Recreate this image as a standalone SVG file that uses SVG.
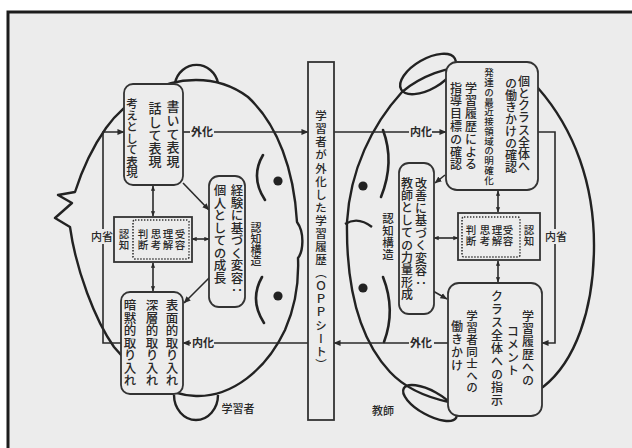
<svg xmlns="http://www.w3.org/2000/svg" width="632" height="448" viewBox="0 0 632 448">
  <style>
    .face { fill: none; stroke: #222; stroke-width: 2.4; stroke-linejoin: round; }
    .brow { fill: none; stroke: #222; stroke-width: 2.6; stroke-linecap: round; }
    .eye { fill: #222; }
    .box { fill: #ececec; stroke: #333; stroke-width: 1.8; }
    .dots { fill: none; stroke: #333; stroke-width: 1.6; stroke-dasharray: 1.4 1.6; }
    .ln { fill: none; stroke: #2a2a2a; stroke-width: 1.6; }
    .v { font-family: "Noto Sans CJK JP", "Noto Sans CJK SC", sans-serif; writing-mode: vertical-rl; fill: #282828; font-weight: 500; }
    .h { font-family: "Noto Sans CJK JP", "Noto Sans CJK SC", sans-serif; fill: #282828; font-size: 11px; font-weight: 500; }
    .lab { font-weight: 700; }
  </style>
  <defs>
    <marker id="ah" viewBox="0 0 8 8" refX="7.5" refY="4" markerWidth="7" markerHeight="7" markerUnits="userSpaceOnUse" orient="auto-start-reverse">
      <path d="M0,0.6 L8,4 L0,7.4 z" fill="#2a2a2a"/>
    </marker>
    <marker id="sah" viewBox="0 0 8 8" refX="7.5" refY="4" markerWidth="5" markerHeight="5" markerUnits="userSpaceOnUse" orient="auto-start-reverse">
      <path d="M0,0.6 L8,4 L0,7.4 z" fill="#2a2a2a"/>
    </marker>
  </defs>

  <!-- paper and frame -->
  <rect x="0" y="0" width="632" height="448" fill="#ffffff"/>
  <rect x="8" y="12" width="640" height="450" fill="#ececec" stroke="#1c1c1c" stroke-width="3"/>

  <!-- learner head -->
  <g id="learner-face">
    <path class="face" d="M175,83 A22,23 0 0 1 218,83"/>
    <path class="face" d="M174,395 A22,25 0 0 0 218,395"/>
    <path class="face" d="M297,222 C294,170 278,125 248,97 C232,85 214,80 196,80 C160,80 126,100 106,128 C92,148 82,170 75,192 L58,195 L72,203 L55,218 L70,227 C76,270 95,320 114,347 C138,376 166,395 196,396 C232,397 266,370 285,330 C296,305 299,282 298,258 C303,252 305,233 297,222 Z"/>
    <path class="brow" d="M263,155 Q250,177 265,200"/>
    <path class="brow" d="M262,277 Q249,300 264,323"/>
    <circle class="eye" cx="278" cy="181" r="4.6"/>
    <circle class="eye" cx="278" cy="296" r="4.6"/>
    <text class="h" x="238" y="413" text-anchor="middle">学習者</text>
  </g>

  <!-- teacher head -->
  <g id="teacher-face">
    <ellipse class="face" cx="428" cy="74" rx="31" ry="15" transform="rotate(-30 428 74)"/>
    <ellipse class="face" cx="430" cy="403" rx="30" ry="12" transform="rotate(29 430 403)"/>
    <path class="face" d="M402,92 C372,125 350,170 347,222 C346,290 360,340 390,372 C405,388 425,397 449,402 C475,412 515,405 543,387 C575,362 594,310 594,245 C594,185 575,130 538,88 C505,55 440,60 402,92 Z"/>
    <path class="face" d="M345,224 Q358,216 372,227"/>
    <path class="brow" d="M383,130 Q395,162 381,197"/>
    <path class="brow" d="M383,277 Q396,310 384,342"/>
    <circle class="eye" cx="363" cy="186" r="4.6"/>
    <circle class="eye" cx="363" cy="288" r="4.6"/>
    <text class="h" x="383" y="415" text-anchor="middle">教師</text>
  </g>

  <!-- connectors -->
  <g id="connectors">
    <!-- learner: expression to the shared record -->
    <line class="ln" x1="183" y1="132" x2="190" y2="132"/>
    <line class="ln" x1="214" y1="132" x2="308" y2="132" marker-end="url(#ah)"/>
    <!-- record to teacher -->
    <line class="ln" x1="334" y1="132" x2="409" y2="132"/>
    <line class="ln" x1="432" y1="132" x2="446" y2="132" marker-end="url(#ah)"/>
    <!-- teacher back to the record -->
    <line class="ln" x1="434" y1="343" x2="448" y2="343"/>
    <line class="ln" x1="409" y1="343" x2="334" y2="343" marker-end="url(#ah)"/>
    <!-- record back to learner -->
    <line class="ln" x1="308" y1="343" x2="214" y2="343"/>
    <line class="ln" x1="191" y1="343" x2="183" y2="343" marker-end="url(#ah)"/>

    <!-- reflection loops -->
    <path class="ln" d="M121,343 H103 V132 H124" marker-end="url(#ah)"/>
    <path class="ln" d="M538,132 H555 V343 H542" marker-end="url(#ah)"/>

    <!-- learner internal links -->
    <line class="ln" x1="153" y1="186" x2="153" y2="216" marker-start="url(#sah)" marker-end="url(#sah)"/>
    <line class="ln" x1="153" y1="263" x2="153" y2="291" marker-start="url(#sah)" marker-end="url(#sah)"/>
    <line class="ln" x1="192" y1="239" x2="209" y2="239" marker-start="url(#sah)" marker-end="url(#sah)"/>
    <line class="ln" x1="183" y1="183" x2="209" y2="210" marker-end="url(#ah)"/>
    <line class="ln" x1="210" y1="277" x2="184" y2="303" marker-end="url(#ah)"/>
    <line class="ln" x1="141" y1="132" x2="148" y2="132" marker-end="url(#sah)"/>
    <line class="ln" x1="160" y1="132" x2="167" y2="132" marker-end="url(#sah)"/>
    <line class="ln" x1="165" y1="343" x2="158" y2="343" marker-end="url(#sah)"/>
    <line class="ln" x1="145" y1="343" x2="138" y2="343" marker-end="url(#sah)"/>

    <!-- teacher internal links -->
    <line class="ln" x1="498" y1="191" x2="498" y2="212" marker-start="url(#sah)" marker-end="url(#sah)"/>
    <line class="ln" x1="498" y1="261" x2="498" y2="282" marker-start="url(#sah)" marker-end="url(#sah)"/>
    <line class="ln" x1="434" y1="238" x2="458" y2="238" marker-start="url(#sah)" marker-end="url(#sah)"/>
    <line class="ln" x1="445" y1="175" x2="435" y2="183" marker-end="url(#ah)"/>
    <line class="ln" x1="433" y1="291" x2="447" y2="299" marker-end="url(#ah)"/>
    <line class="ln" x1="476" y1="130" x2="483" y2="130" marker-end="url(#sah)"/>
    <line class="ln" x1="497" y1="130" x2="504" y2="130" marker-end="url(#sah)"/>
    <line class="ln" x1="490" y1="343" x2="483" y2="343" marker-end="url(#sah)"/>
    <line class="ln" x1="510" y1="343" x2="503" y2="343" marker-end="url(#sah)"/>

    <text class="h lab" x="202" y="136" text-anchor="middle">外化</text>
    <text class="h lab" x="421" y="136" text-anchor="middle">内化</text>
    <text class="h lab" x="421" y="347" text-anchor="middle">外化</text>
    <text class="h lab" x="203" y="347" text-anchor="middle">内化</text>
    <rect x="91" y="229" width="23" height="15" fill="#ececec"/>
    <text class="h" x="102" y="241" text-anchor="middle">内省</text>
    <rect x="544" y="229" width="23" height="15" fill="#ececec"/>
    <text class="h" x="556" y="241" text-anchor="middle">内省</text>
  </g>

  <!-- shared learning record -->
  <g id="opp-sheet">
    <rect class="box" x="308" y="62" width="26" height="358"/>
    <text class="v" x="321" y="110" font-size="11.5" letter-spacing="1.6">学習者が外化した学習履歴（ＯＰＰシート）</text>
  </g>

  <!-- learner nodes -->
  <g id="learner-expression">
    <rect class="box" x="124" y="84" width="59" height="101" rx="9"/>
    <text class="v" x="173" y="100" font-size="13" letter-spacing="0.6">書いて表現</text>
    <text class="v" x="155" y="102" font-size="13" letter-spacing="0.2">話して表現</text>
    <text class="v" x="132" y="98" font-size="11.5">考えとして表現</text>
  </g>
  <g id="learner-cognition">
    <rect class="box" x="114" y="217" width="78" height="45"/>
    <rect class="dots" x="133" y="220" width="56" height="39" rx="2"/>
    <text class="v" x="180" y="229" font-size="10.5">受容</text>
    <text class="v" x="168" y="229" font-size="10.5">理解</text>
    <text class="v" x="156" y="229" font-size="10.5">思考</text>
    <text class="v" x="143" y="229" font-size="10.5">判断</text>
    <text class="v" x="124" y="229" font-size="10.5">認知</text>
  </g>
  <g id="learner-intake">
    <rect class="box" x="121" y="292" width="62" height="102" rx="9"/>
    <text class="v" x="172" y="299" font-size="12.5">表面的取り入れ</text>
    <text class="v" x="152" y="299" font-size="12.5">深層的取り入れ</text>
    <text class="v" x="130" y="299" font-size="12.5">暗黙的取り入れ</text>
  </g>
  <g id="learner-growth">
    <rect class="box" x="209" y="176" width="36" height="131" rx="10"/>
    <text class="v" x="237" y="184" font-size="12.5">経験に基づく変容：</text>
    <text class="v" x="220" y="184" font-size="12.5">個人としての成長</text>
  </g>
  <g id="learner-structure">
    <text class="v" x="256" y="222" font-size="11">認知構造</text>
  </g>

  <!-- teacher nodes -->
  <g id="teacher-guidance">
    <rect class="box" x="446" y="62" width="92" height="128" rx="11"/>
    <text class="v" x="524" y="75" font-size="12" letter-spacing="0.25">個とクラス全体へ</text>
    <text class="v" x="511" y="77" font-size="12">の働きかけの確認</text>
    <text class="v" x="489" y="68" font-size="9.5" letter-spacing="0.25">発達の最近接領域の明確化</text>
    <text class="v" x="471" y="82" font-size="12" letter-spacing="0.8">学習履歴による</text>
    <text class="v" x="456" y="82" font-size="12" letter-spacing="0.8">指導目標の確認</text>
  </g>
  <g id="teacher-cognition">
    <rect class="box" x="458" y="213" width="82" height="47"/>
    <rect class="dots" x="462" y="217" width="58" height="40" rx="2"/>
    <text class="v" x="529" y="225" font-size="10.5">認知</text>
    <text class="v" x="508" y="225" font-size="10.5">受容</text>
    <text class="v" x="497" y="225" font-size="10.5">理解</text>
    <text class="v" x="485" y="225" font-size="10.5">思考</text>
    <text class="v" x="471" y="225" font-size="10.5">判断</text>
  </g>
  <g id="teacher-growth">
    <rect class="box" x="399" y="163" width="35" height="151" rx="10"/>
    <text class="v" x="421" y="177" font-size="12" letter-spacing="0.5">改善に基づく変容：</text>
    <text class="v" x="407" y="177" font-size="12" letter-spacing="0.4">教師としての力量形成</text>
  </g>
  <g id="teacher-structure">
    <text class="v" x="388" y="213" font-size="11.5" letter-spacing="0.5">認知構造</text>
  </g>
  <g id="teacher-feedback">
    <rect class="box" x="448" y="283" width="94" height="133" rx="11"/>
    <text class="v" x="528" y="310" font-size="12" letter-spacing="0.8">学習履歴への</text>
    <text class="v" x="513" y="325" font-size="12" letter-spacing="1">コメント</text>
    <text class="v" x="497" y="290" font-size="12" letter-spacing="1">クラス全体への指示</text>
    <text class="v" x="472" y="310" font-size="11.5" letter-spacing="0.4">学習者同士への</text>
    <text class="v" x="457" y="320" font-size="12" letter-spacing="1">働きかけ</text>
  </g>
</svg>
